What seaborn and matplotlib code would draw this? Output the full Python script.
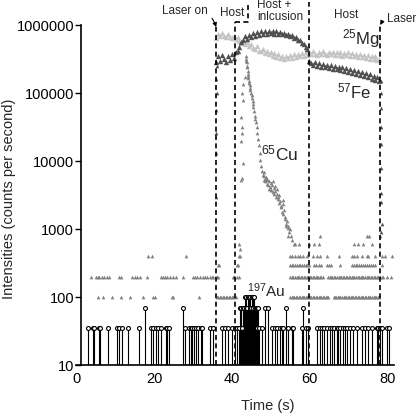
import numpy as np
import pandas as pd
import matplotlib
matplotlib.use("Agg")
import matplotlib.pyplot as plt
from matplotlib.ticker import NullLocator
import seaborn as sns

# ---- data ----
# 25Mg and 57Fe, one reading every 0.5 s while the laser is on (kcps)
host_time = np.arange(36.0, 78.01, 0.5)
mg_kcps = [640, 740, 680, 760, 700, 660, 730, 670, 640, 700,
           620, 670, 590, 550, 595, 520, 555, 485, 520, 460,
           445, 485, 420, 410, 450, 385, 415, 370, 400, 355,
           385, 340, 370, 325, 355, 320, 350, 325, 360, 330,
           372, 340, 378, 350, 388, 355, 395, 360, 405, 370,
           410, 375, 365, 405, 370, 410, 375, 365, 405, 370,
           400, 360, 395, 365, 400, 355, 390, 360, 395, 350,
           385, 345, 380, 340, 375, 335, 365, 330, 360, 320,
           355, 315, 345, 305, 320]
fe_kcps = [290, 355, 300, 360, 320, 290, 350, 305, 370, 330,
           395, 420, 470, 560, 610, 680, 630, 720, 670, 760,
           700, 790, 720, 810, 740, 820, 750, 830, 760, 815,
           750, 805, 740, 795, 730, 775, 705, 750, 680, 715,
           640, 675, 600, 605, 550, 530, 470, 440, 300, 280,
           260, 290, 250, 278, 245, 270, 240, 262, 235, 258,
           226, 252, 222, 245, 216, 240, 210, 232, 204, 225,
           197, 218, 190, 212, 184, 204, 178, 196, 170, 188,
           163, 180, 156, 170, 150]

# signal rise and washout along the laser on / laser off lines (kcps)
fe_edge_time = [35.9, 36.0, 35.9, 36.0, 36.1, 36.0, 36.1,
                78.3, 78.3, 78.4, 78.3, 78.4, 78.5, 78.4, 78.5, 78.6, 78.5]
fe_edge_kcps = [3, 13, 26, 56, 100, 160, 250,
                150, 100, 60, 32, 18, 8, 3.4, 2.5, 1.2, 0.9]

# 65Cu peak from the inclusion (time s, cps)
cu_peak = [(41.9, 400), (42.0, 600), (42.1, 400), (42.2, 500),
           (42.4, 5300), (42.4, 45000), (42.5, 20000), (42.6, 100000),
           (42.6, 26000), (42.6, 5600), (42.7, 32000), (42.9, 9300),
           (43.0, 138000), (43.0, 79000), (43.4, 174000),
           (43.6, 355000), (43.7, 300000), (43.8, 316000), (43.9, 282000),
           (43.9, 240000), (44.0, 251000), (44.1, 214000), (44.1, 180000),
           (44.2, 191000), (44.3, 166000), (44.4, 151000), (44.5, 140000),
           (44.6, 132000), (44.7, 118000), (44.8, 112000), (45.0, 100000),
           (45.1, 92000), (45.2, 85000), (45.4, 76000), (45.5, 70000),
           (45.6, 63000), (45.8, 55000), (46.0, 46000), (46.1, 42000),
           (46.2, 38000), (46.4, 32000), (46.6, 26000), (46.8, 21000),
           (47.0, 17000), (47.2, 13000), (47.4, 10500), (47.6, 8500),
           (47.8, 7200), (48.0, 6300), (48.2, 5200), (48.3, 6800),
           (48.4, 6000), (48.6, 5000), (48.7, 5800), (48.8, 5600),
           (49.0, 4600), (49.1, 5400), (49.2, 5200), (49.4, 4400),
           (49.5, 3900), (49.6, 5000), (49.8, 4200), (50.0, 4700),
           (50.1, 3700), (50.2, 3800), (50.4, 4400), (50.5, 5000),
           (50.6, 3500), (50.8, 4000), (51.0, 3300), (51.1, 4300),
           (51.2, 3600), (51.4, 3000), (51.6, 3300), (51.7, 3900),
           (51.8, 2750), (52.0, 2950), (52.2, 2400), (52.3, 3200),
           (52.4, 2600), (52.6, 2100), (52.8, 2200), (53.0, 1800),
           (53.1, 2300), (53.2, 1650), (53.3, 2700), (53.4, 1900),
           (53.6, 1400), (53.8, 1500), (53.9, 1100), (54.0, 1200),
           (54.2, 1300), (54.4, 1050), (54.5, 800), (54.6, 1100),
           (54.8, 900), (55.0, 1000), (55.3, 800), (55.6, 700), (56.0, 600)]

# 65Cu background, counts come in steps of 100 cps
cu100_time = [5.7, 7.0, 9.1, 11.4, 13.8, 17.1, 19.8, 20.3, 24.6, 25.0, 31.6,
              36.2, 36.6, 37.0, 37.3, 37.7, 38.1, 38.5, 38.9, 39.2, 39.6,
              40.0, 40.4, 41.2,
              55.0, 55.4, 55.8, 56.1, 56.5, 56.9, 57.2, 57.6, 58.0, 58.3,
              58.7, 59.1, 59.4, 59.8, 60.2, 60.5, 60.9, 61.3, 61.6, 62.0,
              62.4, 62.7, 63.1, 63.5, 63.8, 64.2, 64.6, 64.9, 66.2, 66.6,
              66.9, 67.3, 67.7, 68.0, 68.4, 68.8, 69.1, 69.5, 69.9, 70.2,
              70.6, 71.0, 71.3, 71.7, 72.1, 72.4, 72.8, 73.2, 73.5, 73.9,
              74.3, 74.6, 75.0, 75.4, 75.7, 76.1, 76.5, 76.8, 77.2, 77.6,
              77.9]
cu200_time = [3.7, 5.1, 5.5, 5.9, 6.5, 7.1, 7.8, 8.5, 11.0, 11.4, 14.3,
              15.1, 15.7, 16.4, 18.1, 21.7, 22.2, 22.8, 23.4, 24.1, 24.8,
              25.7, 27.4, 30.0, 30.6, 31.1, 31.8, 32.5, 33.1, 33.7, 34.4,
              34.8, 35.3, 36.1, 36.4, 40.3, 40.7, 41.3, 41.8,
              55.1, 55.5, 55.9, 56.3, 56.7, 57.0, 57.4, 57.8, 58.2, 58.6,
              58.9, 59.3, 59.7, 60.1, 60.4, 60.8, 61.2, 61.6, 62.0, 62.3,
              62.7, 63.1, 63.5, 64.8, 65.2, 65.6, 65.9, 66.3, 66.7, 67.1,
              67.5, 67.8, 68.2, 68.6, 69.0, 69.4, 69.7, 70.1, 70.5, 70.9,
              71.3, 71.6, 72.0, 72.4, 72.8, 73.2, 73.5, 73.9, 74.3, 74.7,
              75.1, 75.4, 75.8, 76.2, 76.6, 77.0, 77.3, 77.7, 78.1, 78.6,
              79.0, 80.0, 80.9]
cu300_time = [36.4, 36.8, 41.3, 41.7,
              55.0, 55.4, 55.9, 56.3, 56.8, 57.2, 57.7, 58.1, 58.6, 59.0,
              59.5, 60.0, 61.2, 61.6, 62.5, 63.0, 64.6, 65.1, 65.6, 67.9,
              70.9, 71.4, 71.9, 72.3, 72.8, 73.3, 73.8, 74.3, 74.8, 75.3,
              75.8, 76.3, 76.8, 78.6]
cu400_time = [18.5, 19.5, 28.2,
              54.9, 55.6, 56.3, 57.1, 57.7, 58.4, 59.3, 61.0, 61.9, 62.7,
              64.5, 67.6, 70.9, 71.5, 72.2, 73.5, 74.7, 75.2, 76.8, 78.6,
              79.4, 81.2]
cu600_time = [56.4, 57.4, 59.8, 61.2, 62.4, 71.5, 72.6, 73.9, 76.2]
cu800_time = [62.7, 74.9, 75.3, 78.1]

# 197Au, non-zero readings only (time s, cps)
au_points = [(3.1, 35), (4.2, 35), (4.6, 35), (5.9, 35), (6.1, 35), (8.2, 35),
             (10.4, 35), (11.1, 35), (11.7, 35), (13.4, 35), (16.2, 35),
             (17.7, 70), (19.1, 35), (19.8, 35), (20.5, 35), (21.1, 35),
             (21.7, 35), (23.1, 35), (23.4, 35), (23.8, 35), (27.4, 70),
             (28.0, 35), (29.1, 35), (29.4, 35), (29.9, 35), (30.2, 35),
             (30.7, 35), (31.2, 35), (32.0, 35), (32.3, 35), (34.4, 35),
             (35.1, 35), (37.4, 35), (38.3, 35), (39.1, 35), (40.0, 35),
             (40.8, 35), (41.3, 35),
             (42.0, 35), (42.2, 70), (42.4, 70), (42.6, 35), (42.8, 70),
             (43.0, 70), (43.2, 70), (43.4, 100), (43.6, 70), (43.8, 100),
             (44.0, 70), (44.2, 100), (44.4, 100), (44.6, 70), (44.8, 100),
             (45.0, 70), (45.2, 100), (45.4, 100), (45.6, 70), (45.8, 100),
             (46.0, 70), (46.2, 70), (46.4, 70), (46.6, 35), (46.8, 70),
             (47.0, 35),
             (47.7, 35), (48.6, 70), (49.4, 70), (50.3, 35), (51.1, 35),
             (51.7, 35), (52.4, 35), (52.9, 35), (53.3, 35), (54.0, 70),
             (54.6, 35), (55.4, 35), (55.9, 35), (58.0, 35), (58.4, 70),
             (59.1, 35), (59.7, 35), (61.9, 35), (62.6, 35), (63.2, 35),
             (63.8, 35), (64.5, 35), (65.3, 35), (65.7, 35), (66.3, 35),
             (67.0, 35), (67.4, 35), (67.9, 35), (68.6, 35), (69.2, 35),
             (69.6, 35), (70.5, 35), (71.3, 35), (72.2, 35), (73.5, 35),
             (74.3, 35), (75.2, 35), (76.0, 35), (77.3, 35), (77.7, 35),
             (78.2, 35), (78.6, 35), (79.9, 35), (80.6, 35)]

# laser on, host/inclusion boundary, inclusion/host boundary, laser off
event_time = [36.0, 40.8, 59.9, 78.2]
event_top = [9.3e5, 1.1e6, 2.2e6, 1.0e6]

y_ticks = [10, 100, 1000, 10000, 100000, 1000000]
x_ticks = [0, 20, 40, 60, 80]

# ---- tables ----
host = pd.DataFrame({"time": host_time,
                     "mg": np.array(mg_kcps) * 1000,
                     "fe": np.array(fe_kcps) * 1000})
fe_edge = pd.DataFrame({"time": fe_edge_time, "cps": np.array(fe_edge_kcps) * 1000})
cu_pk = pd.DataFrame(cu_peak, columns=["time", "cps"])
cu_bg = pd.concat([pd.DataFrame({"time": t, "cps": lvl}) for t, lvl in
                   [(cu100_time, 100), (cu200_time, 200), (cu300_time, 300),
                    (cu400_time, 400), (cu600_time, 600), (cu800_time, 800)]])
cu = pd.concat([cu_bg, cu_pk])
au = pd.DataFrame(au_points, columns=["time", "cps"])

# ---- plot ----
sns.set_theme(style="white")
plt.rcParams["font.family"] = ["Liberation Sans", "DejaVu Sans"]
plt.rcParams["mathtext.default"] = "regular"

fig = plt.figure(figsize=(4.19, 4.17), dpi=100)
ax = fig.add_axes([0.1821, 0.1247, 0.7585, 0.8153])
ax.set_yscale("log")

sns.scatterplot(data=host, x="time", y="mg", marker="^", s=15, color="#c4c4c4",
                linewidth=0, ax=ax)
sns.scatterplot(data=host, x="time", y="fe", marker="^", s=15, color="#505050",
                linewidth=0, ax=ax)
sns.scatterplot(data=fe_edge, x="time", y="cps", marker="^", s=7, color="#505050",
                linewidth=0, ax=ax)
sns.scatterplot(data=cu, x="time", y="cps", marker="^", s=7, color="#808080",
                linewidth=0, ax=ax)

ax.vlines(au["time"], 10, au["cps"], color="black", lw=0.8, zorder=3)
sns.scatterplot(data=au, x="time", y="cps", marker="o", s=8, facecolor="white",
                edgecolor="black", linewidth=0.8, zorder=4, ax=ax)

# event lines, running above the plot area
for t, top in zip(event_time, event_top):
    ax.plot([t, t], [10, top], color="black", lw=1.2, ls=(0, (3, 2)),
            clip_on=False, zorder=5)
ax.plot([40.8, 44.3, 44.3], [1.1e6, 1.1e6, 1.97e6], color="black", lw=1.2,
        ls=(0, (3, 2)), clip_on=False, zorder=5)

arrow = dict(arrowstyle="-|>", color="black", lw=0.8, mutation_scale=6,
             shrinkA=1, shrinkB=0)
ax.annotate("Laser on", xy=(36.0, 9.3e5), xytext=(28.0, 1.6e6), fontsize=8.5,
            ha="center", va="center", annotation_clip=False,
            arrowprops=dict(arrow, connectionstyle="arc3,rad=-0.5"))
ax.annotate("Laser", xy=(78.2, 1.0e6), xytext=(80.0, 1.22e6), fontsize=8.5,
            ha="left", va="center", annotation_clip=False,
            arrowprops=dict(arrow, connectionstyle="arc3,rad=0.5"))
ax.text(40.1, 1.5e6, "Host", fontsize=8.5, ha="center", va="center")
ax.text(46.6, 1.6e6, "Host +\ninlcusion", fontsize=8.5, ha="left", va="center",
        linespacing=1.0)
ax.text(69.5, 1.42e6, "Host", fontsize=8.5, ha="center", va="center")

ax.text(68.4, 6.3e5, "$^{25}$Mg", fontsize=12, ha="left", va="center")
ax.text(67.2, 1.04e5, "$^{57}$Fe", fontsize=12, ha="left", va="center")
ax.text(47.6, 1.3e4, "$^{65}$Cu", fontsize=12.5, ha="left", va="center")
ax.text(44.0, 1.25e2, "$^{197}$Au", fontsize=11, ha="left", va="center")

ax.set_xlim(0, 81.8)
ax.set_ylim(10, 1e6)
ax.set_xticks(x_ticks)
ax.set_xticklabels([str(v) for v in x_ticks])
ax.set_yticks(y_ticks)
ax.set_yticklabels([str(v) for v in y_ticks])
ax.yaxis.set_minor_locator(NullLocator())
ax.tick_params(axis="y", direction="out", length=4, width=1, pad=1,
               labelsize=10.5, colors="black", left=True)
ax.tick_params(axis="x", length=0, pad=5, labelsize=10.5, colors="black")

for side in ["top", "right"]:
    ax.spines[side].set_visible(False)
ax.spines["left"].set_position(("data", 1.2))
for side in ["left", "bottom"]:
    ax.spines[side].set_color("black")
    ax.spines[side].set_linewidth(1.2)

ax.set_xlabel("Time (s)", fontsize=10.5)
ax.set_ylabel("Intensities (counts per second)", fontsize=10.5)
ax.xaxis.set_label_coords(0.603, -0.101)
ax.yaxis.set_label_coords(-0.19, 0.49)

fig.savefig("out.png", dpi=100)
